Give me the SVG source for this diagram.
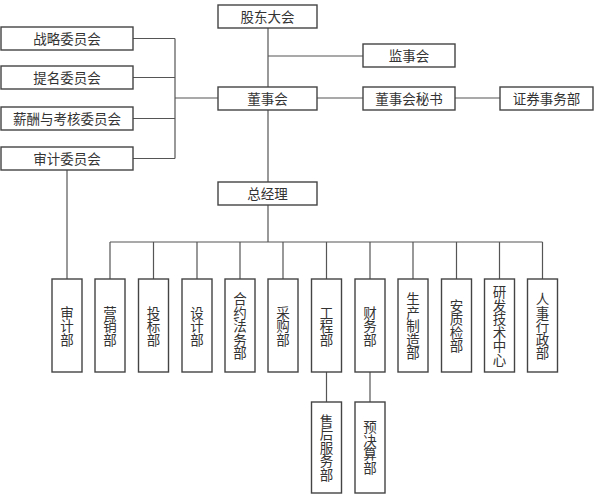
<svg xmlns="http://www.w3.org/2000/svg" width="594" height="494" viewBox="0 0 594 494">
<style>
.box{fill:#fff;stroke:#444;stroke-width:1.4}
.ln{fill:none;stroke:#555;stroke-width:1.2}
text{font-family:"Noto Sans CJK SC","Noto Sans CJK TC",sans-serif;font-size:13.5px;fill:#333;text-anchor:middle}
.v{writing-mode:vertical-rl;glyph-orientation-vertical:0;font-size:13.5px}
</style>
<rect width="594" height="494" fill="#fff"/>
<g id="connectors">
<path class="ln" d="M133,38.5H175M133,77.5H175M133,118.5H175M133,158.5H175M175,38.5V158.5M175,98H218"/>
<path class="ln" d="M268,28V87M268,110V182M268,205V242M268,56H363M317,98H363M455,98H500"/>
<path class="ln" d="M67,170V279"/>
<path class="ln" d="M110,242H542.5M110,242V279M153.5,242V279M197,242V279M240,242V279M283,242V279M326.5,242V279M370,242V279M413,242V279M456.5,242V279M499.5,242V279M542.5,242V279"/>
<path class="ln" d="M326.5,372V402M370,372V402"/>
</g>
<g id="n_gudong"><rect class="box" x="218" y="5" width="99" height="23"/><text x="267.5" y="21.5">股东大会</text></g>
<g id="n_jianshi"><rect class="box" x="363" y="44" width="92" height="23"/><text x="409" y="60.5">监事会</text></g>
<g id="n_dongshi"><rect class="box" x="218" y="87" width="99" height="23"/><text x="267.5" y="103.5">董事会</text></g>
<g id="n_mishu"><rect class="box" x="363" y="87" width="92" height="23"/><text x="409" y="103.5">董事会秘书</text></g>
<g id="n_zhengquan"><rect class="box" x="500" y="87" width="93" height="23"/><text x="546.5" y="103.5">证券事务部</text></g>
<g id="n_zhanlue"><rect class="box" x="1" y="27" width="132" height="23"/><text x="67" y="43.5">战略委员会</text></g>
<g id="n_timing"><rect class="box" x="1" y="66" width="132" height="23"/><text x="67" y="82.5">提名委员会</text></g>
<g id="n_xinchou"><rect class="box" x="1" y="107" width="132" height="23"/><text x="67" y="123.5">薪酬与考核委员会</text></g>
<g id="n_shenjiwei"><rect class="box" x="1" y="147" width="132" height="23"/><text x="67" y="163.5">审计委员会</text></g>
<g id="n_zongjingli"><rect class="box" x="218" y="182" width="99" height="23"/><text x="267.5" y="198.5">总经理</text></g>
<g id="n_shenjibu"><rect class="box" x="52" y="279" width="30" height="93"/><text class="v" x="67" y="326">审计部</text></g>
<g id="n_yingxiao"><rect class="box" x="95" y="279" width="30" height="93"/><text class="v" x="110" y="326">营销部</text></g>
<g id="n_toubiao"><rect class="box" x="138.5" y="279" width="30" height="93"/><text class="v" x="153.5" y="326">投标部</text></g>
<g id="n_sheji"><rect class="box" x="182" y="279" width="30" height="93"/><text class="v" x="197" y="326">设计部</text></g>
<g id="n_heyue"><rect class="box" x="225" y="279" width="30" height="93"/><text class="v" x="240" y="326">合约法务部</text></g>
<g id="n_caigou"><rect class="box" x="268" y="279" width="30" height="93"/><text class="v" x="283" y="326">采购部</text></g>
<g id="n_gongcheng"><rect class="box" x="311.5" y="279" width="30" height="93"/><text class="v" x="326.5" y="326">工程部</text></g>
<g id="n_caiwu"><rect class="box" x="355" y="279" width="30" height="93"/><text class="v" x="370" y="326">财务部</text></g>
<g id="n_shengchan"><rect class="box" x="398" y="279" width="30" height="93"/><text class="v" x="413" y="326">生产制造部</text></g>
<g id="n_anzhi"><rect class="box" x="441.5" y="279" width="30" height="93"/><text class="v" x="456.5" y="326">安质检部</text></g>
<g id="n_yanfa"><rect class="box" x="484.5" y="279" width="30" height="93"/><text class="v" x="499.5" y="326">研发技术中心</text></g>
<g id="n_renshi"><rect class="box" x="527.5" y="279" width="30" height="93"/><text class="v" x="542.5" y="326">人事行政部</text></g>
<g id="n_shouhou"><rect class="box" x="311.5" y="402" width="30" height="91"/><text class="v" x="326.5" y="447.5">售后服务部</text></g>
<g id="n_yujuesuan"><rect class="box" x="355" y="402" width="30" height="91"/><text class="v" x="370" y="447.5">预决算部</text></g>
</svg>
